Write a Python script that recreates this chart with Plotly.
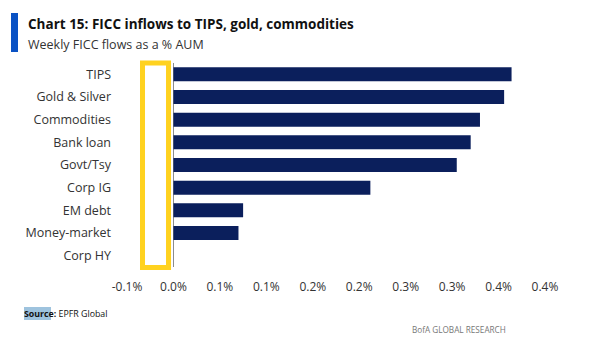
import plotly.graph_objects as go

categories = ["TIPS", "Gold & Silver", "Commodities", "Bank loan", "Govt/Tsy",
              "Corp IG", "EM debt", "Money-market", "Corp HY"]
values = [0.364, 0.356, 0.330, 0.320, 0.305, 0.212, 0.075, 0.070, 0.0]
tick_vals = [-0.05, 0.0, 0.05, 0.10, 0.15, 0.20, 0.25, 0.30, 0.35, 0.40]
tick_text = ["-0.1%", "0.0%", "0.1%", "0.1%", "0.2%", "0.2%", "0.3%", "0.3%", "0.4%", "0.4%"]

FONT = "Open Sans"
NAVY = "#0b1f5c"

fig = go.Figure()
fig.add_trace(go.Bar(
    y=categories, x=values, orientation="h",
    marker=dict(color=NAVY, line=dict(width=0)),
    width=0.62,
))

fig.update_layout(
    width=606, height=350,
    margin=dict(l=127, r=61, t=63, b=83),
    paper_bgcolor="white", plot_bgcolor="white",
    showlegend=False,
    font=dict(family=FONT, color="#333333", size=12),
    xaxis=dict(range=[-0.05, 0.40], tickvals=tick_vals, ticktext=tick_text,
               showgrid=False, zeroline=True, zerolinecolor="#8c8c8c", zerolinewidth=1,
               showline=False, ticks="", tickfont=dict(size=12, color="#333333"),
               ticklabelstandoff=11),
    yaxis=dict(autorange="reversed", showgrid=False, zeroline=False, showline=False,
               ticks="", tickfont=dict(size=12.5, color="#333333"),
               ticklabelstandoff=15),
)

# highlight box
fig.add_shape(type="rect", xref="x", yref="paper",
              x0=-0.0333, x1=-0.0053, y0=-0.003, y1=1.0,
              line=dict(color="#FFD21F", width=5), fillcolor="rgba(0,0,0,0)")

# title accent bar
fig.add_shape(type="rect", xref="x domain", yref="y domain",
              x0=(11 - 127) / 418, x1=(18 - 127) / 418,
              y0=(267 - 52) / 204, y1=(267 - 13) / 204,
              fillcolor="#0a52c4", line=dict(width=0), layer="above")

fig.add_annotation(xref="x domain", yref="y domain",
                   x=(26 - 127) / 418, y=(267 - 24) / 204,
                   text="<b>Chart 15: FICC inflows to TIPS, gold, commodities</b>",
                   showarrow=False, xanchor="left", yanchor="middle",
                   font=dict(family=FONT, size=13.5, color="#111111"))
fig.add_annotation(xref="x domain", yref="y domain",
                   x=(26 - 127) / 418, y=(267 - 44) / 204,
                   text="Weekly FICC flows as a % AUM",
                   showarrow=False, xanchor="left", yanchor="middle",
                   font=dict(family=FONT, size=12.5, color="#333333"))
# source highlight
fig.add_shape(type="rect", xref="x domain", yref="y domain",
              x0=(24 - 127) / 418, x1=(51 - 127) / 418,
              y0=(267 - 320) / 204, y1=(267 - 307) / 204,
              fillcolor="#9ec3de", line=dict(width=0), layer="below")
fig.add_annotation(xref="x domain", yref="y domain",
                   x=(22 - 127) / 418, y=(267 - 314) / 204,
                   text="<b>Source:</b> EPFR Global",
                   showarrow=False, xanchor="left", yanchor="middle",
                   font=dict(family=FONT, size=8.8, color="#111111"))
fig.add_annotation(xref="x domain", yref="y domain",
                   x=(508 - 127) / 418, y=(267 - 329) / 204,
                   text="BofA GLOBAL RESEARCH",
                   showarrow=False, xanchor="right", yanchor="middle",
                   font=dict(family=FONT, size=8.2, color="#777777"))

fig.write_html("out.html")
